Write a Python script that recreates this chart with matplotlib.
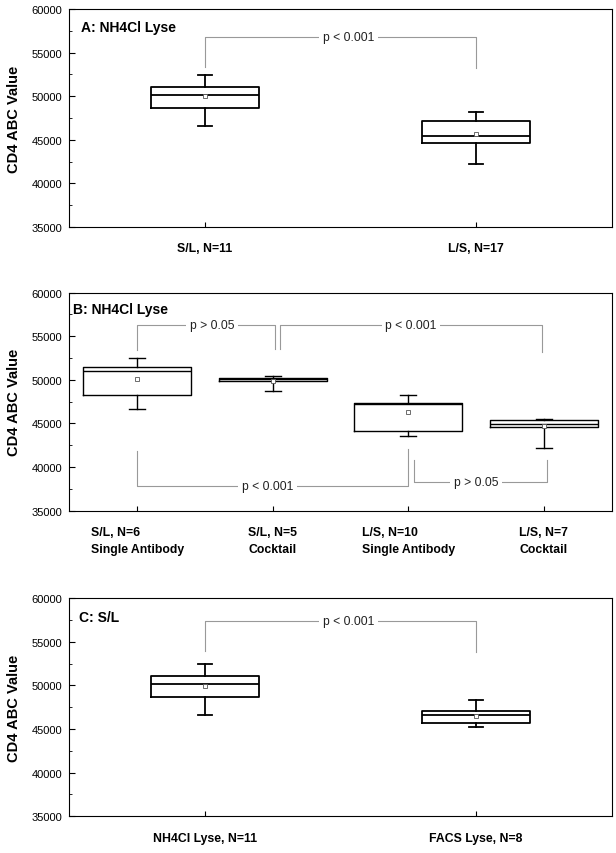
import matplotlib
matplotlib.use('Agg')
import matplotlib.pyplot as plt
from matplotlib.ticker import MultipleLocator

plt.rcParams['font.family'] = ['Liberation Sans', 'DejaVu Sans']

# ---- data ----
a_labels = ['S/L, N=11', 'L/S, N=17']
a_whislo = [46600, 42180]
a_q1 = [48630, 44620]
a_med = [50190, 45460]
a_q3 = [51050, 47180]
a_whishi = [52400, 48170]
a_mean = [50000, 45690]

b_labels = ['S/L, N=6\nSingle Antibody', 'S/L, N=5\nCocktail',
            'L/S, N=10\nSingle Antibody', 'L/S, N=7\nCocktail']
b_whislo = [46640, 48670, 43500, 42160]
b_q1 = [48210, 49850, 44110, 44610]
b_med = [50960, 50050, 47210, 44920]
b_q3 = [51460, 50240, 47330, 45410]
b_whishi = [52460, 50430, 48210, 45530]
b_mean = [50120, 49900, 46290, 44650]

c_labels = ['NH4Cl Lyse, N=11', 'FACS Lyse, N=8']
c_whislo = [46640, 45230]
c_q1 = [48660, 45650]
c_med = [50190, 46560]
c_q3 = [51070, 47020]
c_whishi = [52480, 48280]
c_mean = [49960, 46450]

# brackets: (x_left, x_right, y_bar, y_left_end, y_right_end, text, text_x)
a_brackets = [(1, 2, 56760, 53320, 53200, 'p < 0.001', 1.53)]
b_brackets = [(1, 2.02, 56250, 53380, 53500, 'p > 0.05', 1.55),
              (2.05, 3.99, 56250, 53500, 53190, 'p < 0.001', 3.02),
              (1, 3.0, 37870, 41850, 42110, 'p < 0.001', 1.96),
              (3.04, 4.02, 38290, 40850, 40850, 'p > 0.05', 3.50)]
c_brackets = [(1, 2, 57400, 54000, 53800, 'p < 0.001', 1.53)]

panels = [
    ('A: NH4Cl Lyse', (0.021, 0.917), a_labels, a_whislo, a_q1, a_med, a_q3, a_whishi, a_mean, a_brackets, 0.40, 0.055, 1.3),
    ('B: NH4Cl Lyse', (0.006, 0.925), b_labels, b_whislo, b_q1, b_med, b_q3, b_whishi, b_mean, b_brackets, 0.80, 0.115, 1.0),
    ('C: S/L', (0.017, 0.914), c_labels, c_whislo, c_q1, c_med, c_q3, c_whishi, c_mean, c_brackets, 0.40, 0.055, 1.3),
]
bottoms = [0.733, 0.401, 0.043]

fig = plt.figure(figsize=(6.16, 8.54), dpi=100)

for (title, tpos, labels, wlo, q1, med, q3, whi, mean, brackets, bw, cw, lw), b in zip(panels, bottoms):
    ax = fig.add_axes([0.1128, b, 0.880, 0.2553])
    stats = []
    for i in range(len(labels)):
        stats.append(dict(whislo=wlo[i], q1=q1[i], med=med[i], q3=q3[i],
                          whishi=whi[i], mean=mean[i], fliers=[]))
    pos = list(range(1, len(labels) + 1))
    ax.bxp(stats, positions=pos, widths=bw, capwidths=cw, showmeans=True,
           boxprops=dict(color='black', linewidth=lw),
           medianprops=dict(color='black', linewidth=lw),
           whiskerprops=dict(color='black', linewidth=lw),
           capprops=dict(color='black', linewidth=lw),
           meanprops=dict(marker='s', markersize=2.5, markerfacecolor='white',
                          markeredgecolor='#555555', markeredgewidth=0.6))

    for x1, x2, y, e1, e2, txt, tx in brackets:
        ax.plot([x1, x1, x2, x2], [e1, y, y, e2], color='#999999', linewidth=0.8, zorder=1)
        ax.text(tx, y, txt, ha='center', va='center', fontsize=8.7, color='#222222',
                bbox=dict(facecolor='white', edgecolor='none', pad=2.5), zorder=2)

    ax.set_xlim(0.5, len(labels) + 0.5)
    ax.set_ylim(35000, 60000)
    ax.yaxis.set_major_locator(MultipleLocator(5000))
    ax.yaxis.set_minor_locator(MultipleLocator(2500))
    ax.set_xticks(pos)
    ax.set_xticklabels(labels, fontweight='bold', fontsize=8.8, multialignment='left')
    for t in ax.get_xticklabels():
        t.set_linespacing(1.55)
    ax.tick_params(axis='x', direction='in', length=3.5, pad=11)
    ax.tick_params(axis='y', which='major', direction='in', length=4, labelsize=8, pad=5)
    ax.tick_params(axis='y', which='minor', direction='in', length=2.5)
    ax.set_ylabel('CD4 ABC Value', fontweight='bold', fontsize=10.5, labelpad=8)
    ax.text(tpos[0], tpos[1], title, transform=ax.transAxes, ha='left', va='center',
            fontweight='bold', fontsize=10)

fig.savefig('out.png', dpi=100)
